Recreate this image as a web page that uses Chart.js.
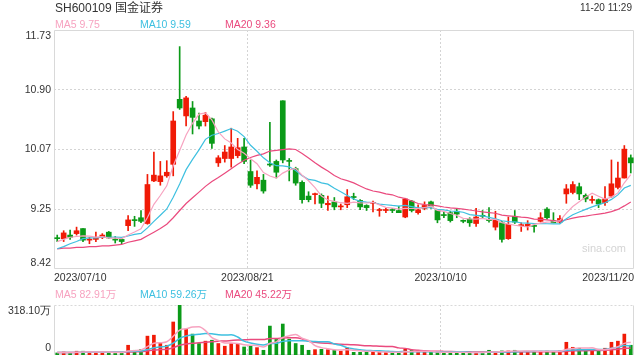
<!DOCTYPE html>
<html>
<head>
<meta charset="utf-8">
<title>SH600109 国金证券</title>
<script src="https://cdn.jsdelivr.net/npm/chart.js@4.4.1/dist/chart.umd.min.js"></script>
<style>
  html, body { margin: 0; padding: 0; background: #fff; }
  #box { position: relative; width: 640px; height: 360px; overflow: hidden;
         font-family: "Liberation Sans", Arial, "Noto Sans CJK SC", sans-serif; color: #333; }
  #box canvas { position: absolute; left: 0; }
  .txt { position: absolute; white-space: nowrap; line-height: 1; }
</style>
</head>
<body>
<div id="box">
  <canvas id="kline" width="640" height="285" style="top:0"></canvas>
  <canvas id="volume" width="640" height="75" style="top:285px"></canvas>
  <div class="txt" style="left:55px;top:2px;font-size:12px">SH600109 国金证券</div>
  <div class="txt" style="right:8px;top:3px;font-size:10px">11-20 11:29</div>
  <div class="txt" style="left:582px;top:243px;font-size:11px;color:#d4d4d4">sina.com</div>
  <div id="legends"></div>
</div>
<script>
// 日K数据 2023/07/10 - 2023/11/20 (90个交易日)
const opens = [8.85, 8.84, 8.89, 8.91, 8.98, 8.82, 8.83, 8.86, 8.93, 8.83,
  8.83, 9.02, 9.10, 9.13, 9.05, 9.64, 9.63, 9.71, 9.87, 10.77,
  10.54, 10.65, 10.47, 10.46, 10.50, 9.89, 9.95, 9.95, 9.99, 10.11,
  9.77, 9.60, 9.65, 9.87, 9.91, 10.75, 9.92, 9.81, 9.62, 9.43,
  9.45, 9.44, 9.31, 9.35, 9.28, 9.31, 9.42, 9.37, 9.30, 9.33,
  9.23, 9.23, 9.24, 9.23, 9.14, 9.36, 9.20, 9.26, 9.35, 9.23,
  9.17, 9.20, 9.22, 9.09, 9.11, 9.05, 9.16, 9.10, 9.00, 9.06,
  8.84, 9.15, 9.02, 9.01, 9.02, 9.08, 9.25, 9.09, 9.07, 9.46,
  9.48, 9.56, 9.44, 9.37, 9.38, 9.34, 9.43, 9.55, 9.68, 9.96];
const highs = [8.89, 8.95, 8.96, 9.00, 8.98, 8.86, 8.93, 8.91, 8.94, 8.87,
  8.85, 9.16, 9.15, 9.23, 9.73, 10.04, 9.91, 9.92, 10.60, 11.50,
  10.81, 10.74, 10.58, 10.59, 10.51, 9.99, 10.13, 10.37, 10.23, 10.23,
  9.93, 9.78, 9.73, 10.45, 9.93, 10.75, 9.95, 9.83, 9.64, 9.49,
  9.47, 9.46, 9.43, 9.41, 9.32, 9.52, 9.47, 9.38, 9.31, 9.36,
  9.26, 9.26, 9.26, 9.29, 9.40, 9.37, 9.31, 9.35, 9.36, 9.24,
  9.22, 9.22, 9.26, 9.10, 9.13, 9.26, 9.23, 9.27, 9.22, 9.08,
  9.14, 9.23, 9.06, 9.09, 9.03, 9.20, 9.27, 9.20, 9.16, 9.59,
  9.63, 9.61, 9.46, 9.43, 9.39, 9.56, 9.93, 9.90, 10.13, 10.00];
const lows = [8.80, 8.80, 8.83, 8.89, 8.80, 8.77, 8.80, 8.84, 8.84, 8.78,
  8.77, 8.95, 9.01, 9.06, 9.04, 9.63, 9.58, 9.69, 9.71, 10.63,
  10.40, 10.29, 10.36, 10.40, 10.09, 9.84, 9.90, 9.83, 9.96, 9.88,
  9.55, 9.53, 9.47, 9.84, 9.68, 9.89, 9.64, 9.58, 9.33, 9.35,
  9.32, 9.27, 9.23, 9.24, 9.24, 9.27, 9.38, 9.24, 9.23, 9.21,
  9.15, 9.20, 9.20, 9.20, 9.13, 9.21, 9.18, 9.24, 9.26, 9.06,
  9.13, 9.07, 9.13, 9.06, 9.01, 9.01, 9.12, 9.07, 8.96, 8.79,
  8.83, 9.05, 8.94, 8.96, 8.93, 9.07, 9.11, 9.06, 9.05, 9.33,
  9.46, 9.38, 9.35, 9.33, 9.27, 9.30, 9.41, 9.53, 9.68, 9.75];
const closes = [8.84, 8.92, 8.86, 8.95, 8.82, 8.83, 8.85, 8.89, 8.85, 8.82,
  8.80, 9.10, 9.09, 9.08, 9.59, 9.72, 9.71, 9.76, 10.47, 10.65,
  10.79, 10.52, 10.40, 10.55, 10.16, 9.96, 10.04, 10.11, 10.10, 9.91,
  9.58, 9.69, 9.50, 9.86, 9.76, 9.93, 9.91, 9.61, 9.38, 9.38,
  9.46, 9.33, 9.33, 9.28, 9.29, 9.42, 9.41, 9.28, 9.27, 9.34,
  9.24, 9.24, 9.23, 9.20, 9.39, 9.23, 9.24, 9.30, 9.29, 9.10,
  9.16, 9.09, 9.18, 9.08, 9.06, 9.14, 9.15, 9.09, 9.10, 8.83,
  9.04, 9.07, 9.03, 9.04, 9.01, 9.13, 9.13, 9.06, 9.12, 9.53,
  9.59, 9.46, 9.39, 9.38, 9.32, 9.39, 9.60, 9.68, 10.08, 9.89];
// 成交量 (万)
const volumes = [13, 19, 15, 24, 24, 17, 17, 17, 17, 13,
  17, 62, 30, 36, 120, 126, 77, 62, 210, 318.1,
  165, 133, 73, 88, 94, 73, 56, 73, 73, 51,
  56, 47, 30, 184, 99, 197, 101, 73, 62, 30,
  34, 36, 34, 30, 24, 45, 17, 17, 17, 24,
  19, 17, 11, 19, 36, 30, 17, 17, 17, 17,
  17, 17, 17, 17, 13, 17, 17, 30, 17, 26,
  26, 30, 22, 24, 22, 24, 25, 22, 26, 81,
  49, 43, 24, 30, 26, 43, 81, 88, 133, 62];

// 均线起始段 (窗口之前的历史数据不在图内，按图读取)
const ma5Head = [8.80, 8.83, 8.86, 8.87];
const ma10Head = [8.70, 8.73, 8.77, 8.80, 8.84, 8.85, 8.85, 8.86, 8.86];
const ma20Head = [8.70, 8.71, 8.71, 8.72, 8.72, 8.73, 8.73, 8.74, 8.74, 8.75,
  8.76, 8.79, 8.81, 8.83, 8.88, 8.93, 8.98, 9.04, 9.13];
const volMa5Head = [15.4, 16.0, 15.8, 17.4];
const volMa10Head = [15.7, 16.0, 15.9, 16.7, 17.5, 17.6, 17.7, 17.8, 17.9];
const volMa20Head = [15.9, 16.0, 16.0, 16.4, 16.8, 16.8, 16.9, 16.9, 17.0, 16.8,
  16.9, 19.2, 19.9, 20.9, 26.0, 31.6, 34.6, 36.9, 46.6];

const maNames = ['MA5', 'MA10', 'MA20'];
const maLegendPrice = ['9.75', '9.59', '9.36'];
const maLegendVolume = ['82.91万', '59.26万', '45.22万'];
const xTickLabels = ['2023/07/10', '2023/08/21', '2023/10/10', '2023/11/20'];
const yTickLabels = ['8.42', '9.25', '10.07', '10.90', '11.73'];
const volTickLabels = ['0', '318.10万'];

const RED = '#f01a06';
const GREEN = '#0b9a18';
const MA_COLORS = ['#f7a3c0', '#3ec0e0', '#ea4a7e'];
const GRID = '#d4d4d4';
const FRAME = '#d9d9d9';
const TEXT = '#333';

Chart.defaults.font.family = '"Liberation Sans", Arial, sans-serif';
Chart.defaults.font.size = 10.5;

function movingAverage(values, n, head) {
  return values.map((v, i) => {
    if (i < n - 1) return head[i];
    let s = 0;
    for (let k = i - n + 1; k <= i; k++) s += values[k];
    return s / n;
  });
}

const count = closes.length;
const candleColors = closes.map((c, i) => c >= opens[i] ? RED : GREEN);
const priceMa = [movingAverage(closes, 5, ma5Head), movingAverage(closes, 10, ma10Head), movingAverage(closes, 20, ma20Head)];
const volMa = [movingAverage(volumes, 5, volMa5Head), movingAverage(volumes, 10, volMa10Head), movingAverage(volumes, 20, volMa20Head)];

// 图例文字
const legendBox = document.getElementById('legends');
maNames.forEach((name, k) => {
  [[maLegendPrice, 19], [maLegendVolume, 289]].forEach(([vals, top]) => {
    const el = document.createElement('div');
    el.className = 'txt';
    el.style.cssText = `left:${55 + k * 85}px;top:${top}px;font-size:10.5px;color:${MA_COLORS[k]}`;
    el.textContent = name + ' ' + vals[k];
    legendBox.appendChild(el);
  });
});

// 边框
const framePlugin = {
  id: 'frame',
  beforeDatasetsDraw(chart, args, opts) {
    const a = chart.chartArea, ctx = chart.ctx;
    const l = Math.round(a.left) + 0.5, r = Math.round(a.right) - 0.5;
    const t = Math.round(a.top) + 0.5, b = Math.round(a.bottom) - 0.5;
    const line = (x1, y1, x2, y2, dash) => {
      ctx.setLineDash(dash || []);
      ctx.beginPath(); ctx.moveTo(x1, y1); ctx.lineTo(x2, y2); ctx.stroke();
    };
    ctx.save();
    ctx.strokeStyle = opts.color;
    ctx.lineWidth = 1;
    line(l, t, r, t, opts.topDash);
    line(l, b, r, b);
    line(l, t, l, b);
    line(r, t, r, b);
    ctx.restore();
  }
};

function xAxis(showLabels) {
  const last = xTickLabels.length - 1;
  return {
    type: 'linear',
    min: -0.5,
    max: count - 0.5,
    offset: false,
    afterBuildTicks: s => { s.ticks = xTickLabels.map((_, k) => ({ value: k * count / last - 0.5 })); },
    afterFit: s => { s.height = showLabels ? 16 : 0; },
    grid: { offset: false, drawTicks: false, color: c => (c.index > 0 && c.index < last) ? GRID : 'transparent' },
    border: { display: false, dash: [2, 2] },
    ticks: { display: showLabels, align: 'inner', padding: 3, autoSkip: false, maxRotation: 0,
             color: TEXT, callback: (v, i) => xTickLabels[i] }
  };
}

// 首末刻度文字向内收 (insetFrac: 占轴高的比例)
function yAxis(min, max, labels, showGrid, insetFrac) {
  const last = labels.length - 1;
  const inset = (max - min) * insetFrac;
  return {
    min: min,
    max: max,
    afterBuildTicks: s => {
      s.ticks = labels.map((_, k) => {
        let v = min + k * (max - min) / last;
        if (k === 0) v += inset;
        if (k === last) v -= inset;
        return { value: v };
      });
    },
    afterFit: s => { s.width = 54; s.paddingTop = 0; s.paddingBottom = 0; },
    grid: { display: showGrid, drawTicks: false, color: c => (c.index > 0 && c.index < last) ? GRID : 'transparent' },
    border: { display: false, dash: [2, 2] },
    ticks: { padding: 3, autoSkip: false, color: TEXT, callback: (v, i) => labels[i] }
  };
}

function maDatasets(series, width, smooth) {
  return series.map((vals, k) => ({
    type: 'line',
    label: maNames[k],
    data: vals.map((v, i) => ({ x: i, y: v })),
    borderColor: MA_COLORS[k],
    borderWidth: width,
    pointRadius: 0,
    cubicInterpolationMode: smooth ? 'monotone' : 'default',
    tension: 0,
    order: 0
  }));
}

const common = {
  responsive: false,
  animation: false,
  events: [],
  plugins: { legend: { display: false }, tooltip: { enabled: false } }
};

new Chart(document.getElementById('kline'), {
  type: 'bar',
  data: {
    datasets: [
      ...maDatasets(priceMa, 1.2, false),
      {
        label: 'body',
        data: opens.map((o, i) => ({ x: i, y: [o, closes[i]] })),
        backgroundColor: candleColors,
        barThickness: 5,
        minBarLength: 1,
        grouped: false,
        order: 1
      },
      {
        label: 'wick',
        data: lows.map((lo, i) => ({ x: i, y: [lo, highs[i]] })),
        backgroundColor: candleColors,
        barThickness: 1,
        grouped: false,
        order: 2
      }
    ]
  },
  options: {
    ...common,
    layout: { padding: { top: 30, right: 6, left: 0, bottom: 0 } },
    plugins: { ...common.plugins, frame: { color: FRAME } },
    scales: {
      x: xAxis(true),
      y: yAxis(8.42, 11.73, yTickLabels, true, 0.024)
    }
  },
  plugins: [framePlugin]
});

new Chart(document.getElementById('volume'), {
  type: 'bar',
  data: {
    datasets: [
      ...maDatasets(volMa, 1.5, true),
      {
        label: 'volume',
        data: volumes.map((v, i) => ({ x: i, y: v })),
        backgroundColor: candleColors,
        barThickness: 3,
        grouped: false,
        order: 1
      }
    ]
  },
  options: {
    ...common,
    layout: { padding: { top: 20, right: 6, left: 0, bottom: 5 } },
    plugins: { ...common.plugins, frame: { color: FRAME, topDash: [2, 2] } },
    scales: {
      x: xAxis(false),
      y: yAxis(0, Math.max(...volumes), volTickLabels, false, 0.13)
    }
  },
  plugins: [framePlugin]
});
</script>
</body>
</html>
